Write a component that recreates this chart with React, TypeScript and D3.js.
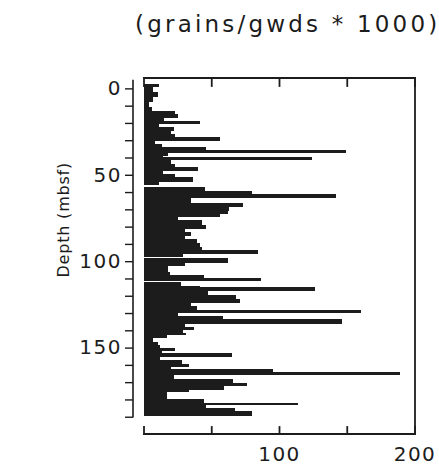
import React, { useEffect, useRef } from 'react';
import * as d3 from 'd3';

// interval boundaries (mbsf), top to bottom
const depthEdges = [
  -2.8, -0.6, 1.9, 4.8, 7.7, 10.9, 12.9, 14.8, 17.3, 18.7, 20.6, 22.5, 24.5, 26.4, 28.0, 30.3,
  32.2, 34.1, 35.8, 37.4, 39.4, 40.0, 41.7, 43.8, 45.7, 47.6, 49.5, 51.3, 54.2, 56.2, 56.9,
  59.1, 61.0, 63.4, 66.6, 68.6, 70.7, 72.7, 74.7, 76.4, 79.3, 81.4, 83.4, 85.4, 87.4, 89.5,
  91.8, 93.8, 95.8, 97.3, 98.0, 100.8, 102.8, 106.0, 108.0, 109.9, 111.5, 112.2, 114.4,
  115.2, 117.0, 119.6, 121.6, 124.2, 126.2, 128.0, 130.0, 132.0, 133.7, 136.1, 137.8,
  139.8, 141.3, 142.7, 144.7, 146.8, 148.5, 150.4, 151.8, 153.3, 155.3, 157.2, 159.5,
  161.1, 162.6, 164.4, 165.9, 168.2, 170.2, 172.2, 174.3, 175.9, 180.0, 181.9, 183.5,
  185.0, 186.9, 189.6
];

// grains/gwds * 1000 for each interval
const abundance = [
  11, 7, 10, 7, 4, 6, 23, 25, 15, 41,
  11, 22, 20, 23, 56, 8, 13, 46, 149, 18,
  14, 124, 20, 23, 40, 14, 23, 36, 11, 0,
  45, 80, 142, 35, 73, 63, 62, 56, 25, 43,
  46, 30, 35, 30, 39, 41, 43, 84, 29, 0,
  62, 30, 18, 19, 44, 86, 0, 27, 41, 126,
  47, 68, 71, 35, 39, 160, 25, 58, 146, 30,
  37, 29, 31, 17, 7, 10, 12, 23, 13, 65,
  12, 28, 33, 20, 95, 189, 22, 66, 76, 59,
  33, 17, 44, 114, 46, 67, 80
];

const depthTicks = d3.range(0, 200, 10);
const depthLabels = [0, 50, 100, 150];
const xTicks = [0, 50, 100, 150, 200];
const xLabels = [100, 200];

const bars = abundance.map((v, i) => ({ top: depthEdges[i], bottom: depthEdges[i + 1], value: v }));

const W = 439;
const H = 465;
const INK = '#1c1c1c';
const FONT = '"DejaVu Sans", Verdana, sans-serif';

const App = () => {
  const svgRef = useRef<SVGSVGElement | null>(null);

  useEffect(() => {
    if (!svgRef.current) return;
    const svg = d3.select(svgRef.current);
    svg.selectAll('*').remove();

    svg.append('rect').attr('width', W).attr('height', H).attr('fill', 'white');

    const x = d3.scaleLinear().domain([0, 200]).range([144, 415]);
    const y = d3.scaleLinear().domain([-6, 200]).range([78, 434]);
    const yTop = y(-6);
    const yBot = y(200);

    // title
    svg.append('text')
      .attr('x', 135)
      .attr('y', 32)
      .attr('font-family', FONT)
      .attr('font-size', 23)
      .attr('letter-spacing', 3.2)
      .attr('fill', INK)
      .text('(grains/gwds * 1000)');

    // bars
    svg.append('g')
      .attr('shape-rendering', 'crispEdges')
      .selectAll('rect')
      .data(bars.filter(b => b.value > 0))
      .enter()
      .append('rect')
      .attr('x', x(0))
      .attr('y', d => y(d.top))
      .attr('width', d => x(d.value) - x(0))
      .attr('height', d => y(d.bottom) - y(d.top))
      .attr('fill', INK);

    svg.append('g')
      .selectAll('text')
      .data(xLabels)
      .enter()
      .append('text')
      .attr('x', d => x(d))
      .attr('y', 461)
      .attr('text-anchor', 'middle')
      .attr('font-family', FONT)
      .attr('font-size', 20)
      .attr('letter-spacing', 1.5)
      .attr('fill', INK)
      .text(d => d);

    // depth axis
    const left = svg.append('g').attr('transform', 'translate(133,0)')
      .call(d3.axisLeft(y).tickValues(depthTicks).tickSize(8).tickPadding(3)
        .tickFormat(d => (depthLabels.includes(+d) ? String(d) : '')));
    left.select('.domain').remove();
    left.append('line')
      .attr('y1', y(-5)).attr('y2', y(190.5))
      .attr('stroke', INK).attr('stroke-width', 1.6);
    left.selectAll('.tick line').attr('stroke', INK).attr('stroke-width', 1.4);
    left.selectAll('.tick text')
      .attr('font-family', FONT)
      .attr('font-size', 20)
      .attr('letter-spacing', 1.5)
      .attr('fill', INK);

    svg.append('text')
      .attr('transform', `translate(64,${y(76)}) rotate(-90)`)
      .attr('text-anchor', 'middle')
      .attr('dominant-baseline', 'middle')
      .attr('font-family', FONT)
      .attr('font-size', 16)
      .attr('letter-spacing', 0.8)
      .attr('fill', INK)
      .text('Depth (mbsf)');

    // frame: top, right, bottom with inward ticks
    const segs = [
      { x1: x(0), y1: yTop, x2: x(200), y2: yTop },
      { x1: x(200), y1: yTop, x2: x(200), y2: yBot },
      { x1: x(0), y1: yBot, x2: x(200), y2: yBot },
      ...xTicks.map(t => ({ x1: x(t), y1: yTop, x2: x(t), y2: yTop + 8 })),
      ...xTicks.map(t => ({ x1: x(t), y1: yBot, x2: x(t), y2: yBot - 7 }))
    ];
    svg.append('g')
      .selectAll('line')
      .data(segs)
      .enter()
      .append('line')
      .attr('x1', d => d.x1).attr('y1', d => d.y1)
      .attr('x2', d => d.x2).attr('y2', d => d.y2)
      .attr('stroke', INK)
      .attr('stroke-width', 1.8)
      .attr('stroke-linecap', 'square');
  }, []);

  return (
    <svg
      ref={svgRef}
      width={W}
      height={H}
      viewBox={`0 0 ${W} ${H}`}
      style={{ position: 'absolute', left: 0, top: 0 }}
    />
  );
};

export default App;
